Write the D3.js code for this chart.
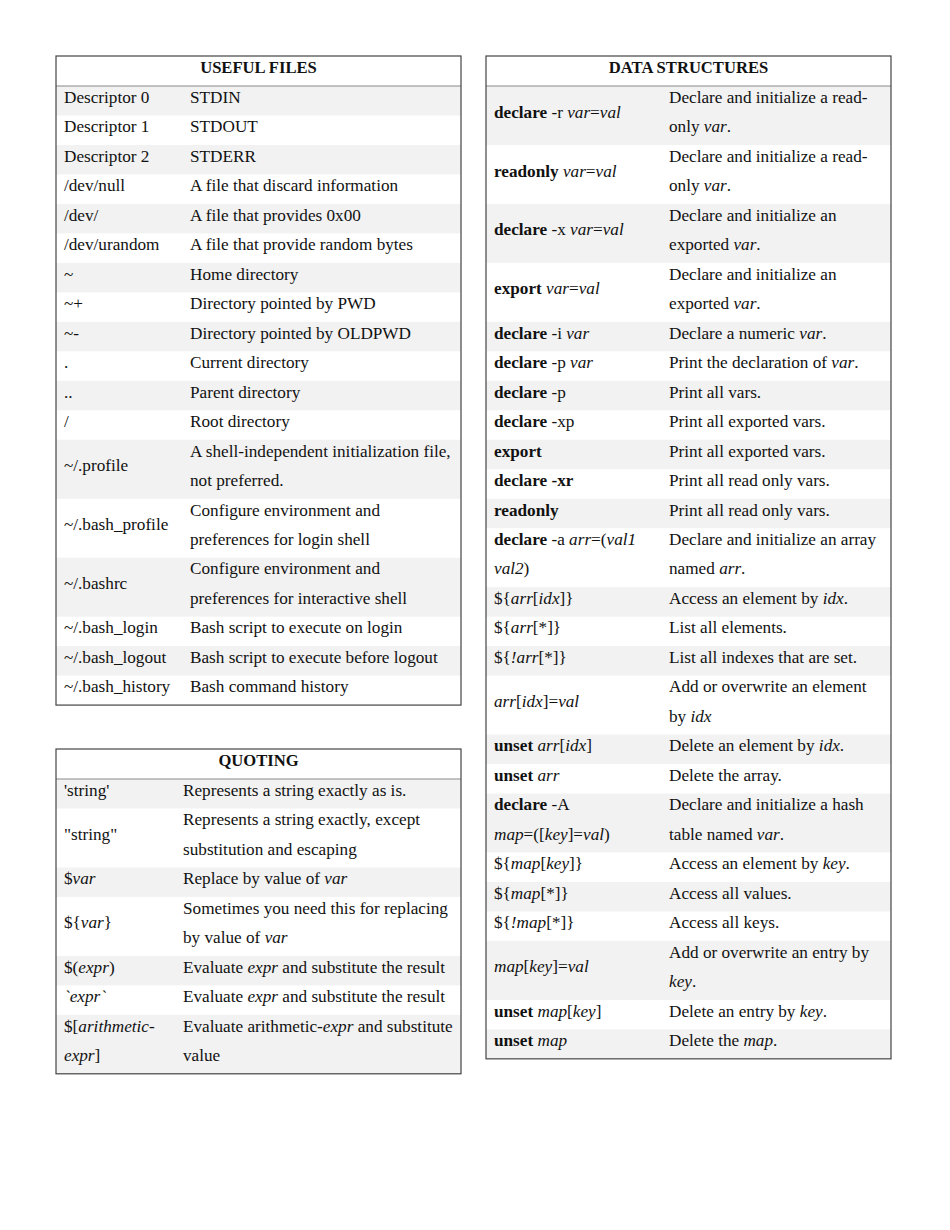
<!DOCTYPE html>
<html>
<head>
<meta charset="utf-8">
<script src="https://cdnjs.cloudflare.com/ajax/libs/d3/7.8.5/d3.min.js"></script>
<style>
  html, body { margin: 0; padding: 0; background: #fff; }
  text { font-family: "Liberation Serif", "Times New Roman", serif; white-space: pre; }
</style>
</head>
<body>
<div id="outer"></div>
<script>
////////// DATA //////////
// each row: [first column lines, second column lines]; <b>..</b> bold, <i>..</i> italic
const usefulFiles = [
	[['Descriptor 0'], ['STDIN']],
	[['Descriptor 1'], ['STDOUT']],
	[['Descriptor 2'], ['STDERR']],
	[['/dev/null'], ['A file that discard information']],
	[['/dev/'], ['A file that provides 0x00']],
	[['/dev/urandom'], ['A file that provide random bytes']],
	[['~'], ['Home directory']],
	[['~+'], ['Directory pointed by PWD']],
	[['~-'], ['Directory pointed by OLDPWD']],
	[['.'], ['Current directory']],
	[['..'], ['Parent directory']],
	[['/'], ['Root directory']],
	[['~/.profile'], ['A shell-independent initialization file,', 'not preferred.']],
	[['~/.bash_profile'], ['Configure environment and', 'preferences for login shell']],
	[['~/.bashrc'], ['Configure environment and', 'preferences for interactive shell']],
	[['~/.bash_login'], ['Bash script to execute on login']],
	[['~/.bash_logout'], ['Bash script to execute before logout']],
	[['~/.bash_history'], ['Bash command history']]
];

const quoting = [
	[["'string'"], ['Represents a string exactly as is.']],
	[['"string"'], ['Represents a string exactly, except', 'substitution and escaping']],
	[['$<i>var</i>'], ['Replace by value of <i>var</i>']],
	[['${<i>var</i>}'], ['Sometimes you need this for replacing', 'by value of <i>var</i>']],
	[['$(<i>expr</i>)'], ['Evaluate <i>expr</i> and substitute the result']],
	[['<i>`expr`</i>'], ['Evaluate <i>expr</i> and substitute the result']],
	[['$[<i>arithmetic-</i>', '<i>expr</i>]'], ['Evaluate arithmetic-<i>expr</i> and substitute', 'value']]
];

const dataStructures = [
	[['<b>declare</b> -r <i>var</i>=<i>val</i>'], ['Declare and initialize a read-', 'only <i>var</i>.']],
	[['<b>readonly</b> <i>var</i>=<i>val</i>'], ['Declare and initialize a read-', 'only <i>var</i>.']],
	[['<b>declare</b> -x <i>var</i>=<i>val</i>'], ['Declare and initialize an', 'exported <i>var</i>.']],
	[['<b>export</b> <i>var</i>=<i>val</i>'], ['Declare and initialize an', 'exported <i>var</i>.']],
	[['<b>declare</b> -i <i>var</i>'], ['Declare a numeric <i>var</i>.']],
	[['<b>declare</b> -p <i>var</i>'], ['Print the declaration of <i>var</i>.']],
	[['<b>declare</b> -p'], ['Print all vars.']],
	[['<b>declare</b> -xp'], ['Print all exported vars.']],
	[['<b>export</b>'], ['Print all exported vars.']],
	[['<b>declare -xr</b>'], ['Print all read only vars.']],
	[['<b>readonly</b>'], ['Print all read only vars.']],
	[['<b>declare</b> -a <i>arr</i>=(<i>val1</i>', '<i>val2</i>)'], ['Declare and initialize an array', 'named <i>arr</i>.']],
	[['${<i>arr</i>[<i>idx</i>]}'], ['Access an element by <i>idx</i>.']],
	[['${<i>arr</i>[*]}'], ['List all elements.']],
	[['${<i>!arr</i>[*]}'], ['List all indexes that are set.']],
	[['<i>arr</i>[<i>idx</i>]=<i>val</i>'], ['Add or overwrite an element', 'by <i>idx</i>']],
	[['<b>unset</b> <i>arr</i>[<i>idx</i>]'], ['Delete an element by <i>idx</i>.']],
	[['<b>unset</b> <i>arr</i>'], ['Delete the array.']],
	[['<b>declare</b> -A', '<i>map</i>=([<i>key</i>]=<i>val</i>)'], ['Declare and initialize a hash', 'table named <i>var</i>.']],
	[['${<i>map</i>[<i>key</i>]}'], ['Access an element by <i>key</i>.']],
	[['${<i>map</i>[*]}'], ['Access all values.']],
	[['${<i>!map</i>[*]}'], ['Access all keys.']],
	[['<i>map</i>[<i>key</i>]=<i>val</i>'], ['Add or overwrite an entry by', '<i>key</i>.']],
	[['<b>unset</b> <i>map</i>[<i>key</i>]'], ['Delete an entry by <i>key</i>.']],
	[['<b>unset</b> <i>map</i>'], ['Delete the <i>map</i>.']]
];

const tableTitles = ['USEFUL FILES', 'QUOTING', 'DATA STRUCTURES'];

////////// SIZING //////////
const width = 950, height = 1230;
const lineH = 29.48;
const headerH = 30;
const fontSize = 17.2;
const headFontSize = 16.6;
const baseOff = 16.8;

const tables = [
	{ title: tableTitles[0], rows: usefulFiles, x: 56, y: 56, w: 405, col2: 134 },
	{ title: tableTitles[1], rows: quoting, x: 56, y: 749, w: 405, col2: 127 },
	{ title: tableTitles[2], rows: dataStructures, x: 486, y: 56, w: 405, col2: 183 }
];

const svg = d3.select('#outer').append('svg')
	.attr('width', width)
	.attr('height', height);
svg.append('rect').attr('width', width).attr('height', height).attr('fill', '#fff');

// split markup into styled pieces
function parse(str) {
	return str.split(/(<b>.*?<\/b>|<i>.*?<\/i>)/).filter(s => s.length).map(s => {
		if (s.startsWith('<b>')) return { t: s.slice(3, -4), b: true };
		if (s.startsWith('<i>')) return { t: s.slice(3, -4), i: true };
		return { t: s };
	});
}

function writeLine(g, str, x, y, opts = {}) {
	const txt = g.append('text')
		.attr('x', x)
		.attr('y', y)
		.attr('font-size', opts.size || fontSize)
		.attr('fill', '#111')
		.attr('text-anchor', opts.anchor || 'start');
	parse(str).forEach(p => {
		txt.append('tspan')
			.attr('font-weight', p.b || opts.bold ? 'bold' : null)
			.attr('font-style', p.i ? 'italic' : null)
			.text(p.t);
	});
}

tables.forEach(tb => {
	const g = svg.append('g').attr('transform', `translate(${tb.x},${tb.y})`);

	// row positions in line units
	let acc = 0;
	const rows = tb.rows.map((r, i) => {
		const n = Math.max(r[0].length, r[1].length);
		const row = { cells: r, start: acc, n: n, idx: i };
		acc += n;
		return row;
	});
	const y = d3.scaleLinear().domain([0, acc]).range([headerH, headerH + acc * lineH]);
	const totalH = headerH + acc * lineH;

	// shading
	g.selectAll('rect.band')
		.data(rows.filter(r => r.idx % 2 === 0))
		.join('rect')
		.attr('class', 'band')
		.attr('x', 0)
		.attr('y', d => y(d.start))
		.attr('width', tb.w)
		.attr('height', d => y(d.start + d.n) - y(d.start))
		.attr('fill', '#f2f2f2');

	// header
	writeLine(g, tb.title, tb.w / 2, baseOff + 0.5, { anchor: 'middle', bold: true, size: headFontSize });
	g.append('line')
		.attr('x1', 0).attr('x2', tb.w)
		.attr('y1', headerH).attr('y2', headerH)
		.attr('stroke', '#888').attr('stroke-width', 1);

	// cells
	rows.forEach(r => {
		[0, 1].forEach(c => {
			const lines = r.cells[c];
			const off = (r.n - lines.length) / 2;
			lines.forEach((ln, k) => {
				writeLine(g, ln, c === 0 ? 8 : tb.col2, y(r.start + off + k) + baseOff);
			});
		});
	});

	// outer border
	g.append('rect')
		.attr('x', 0).attr('y', 0)
		.attr('width', tb.w).attr('height', totalH)
		.attr('fill', 'none')
		.attr('stroke', '#444')
		.attr('stroke-width', 1.2);
});
</script>
</body>
</html>
